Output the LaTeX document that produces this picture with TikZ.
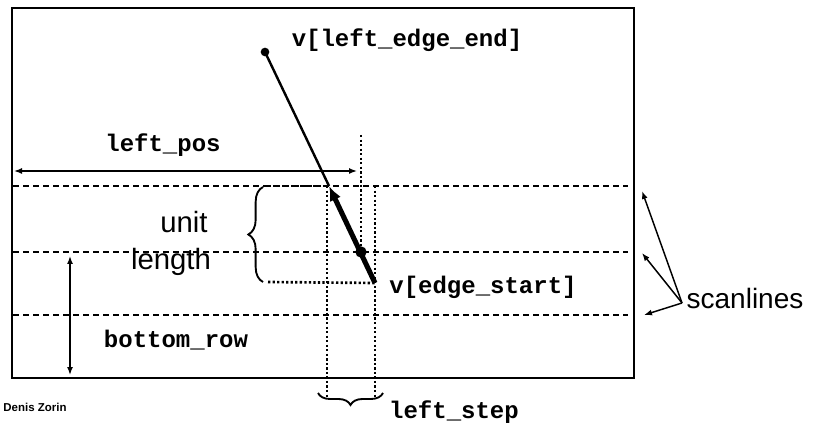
\documentclass[tikz,border=0pt]{standalone}
\usepackage{fontspec}
\setmainfont{Liberation Sans}
\newfontfamily\codefont{Liberation Mono}
\usetikzlibrary{arrows.meta,decorations.pathreplacing}

\begin{document}
\begin{tikzpicture}[x=0.75pt,y=-0.75pt,
  code/.style={font=\codefont\bfseries\fontsize{18}{20}\selectfont, inner sep=0pt},
  word/.style={font=\fontsize{22}{24}\selectfont, inner sep=0pt},
  scanline/.style={dash pattern=on 4.5pt off 3pt, line width=0.9pt},
  guide/.style={dash pattern=on 1.7pt off 1.7pt, line width=2pt},
  tip/.style={-{Latex[length=6pt,width=4.5pt]}},
  tips/.style={{Latex[length=6pt,width=4.5pt]}-{Latex[length=6pt,width=4.5pt]}},
  vertex/.style={circle, fill, inner sep=0pt, minimum size=#1}]
\useasboundingbox (0,0) rectangle (823,423);

% frame of the raster
\draw[line width=2.2pt] (12,8) rectangle (634,378);

% scanlines
\coordinate (s1l) at (13,186); \coordinate (s1r) at (628,186);
\coordinate (s2l) at (13,252); \coordinate (s2r) at (628,252);
\coordinate (s3l) at (13,315); \coordinate (s3r) at (628,315);
\draw[scanline] (s1l) -- (s1r);
\draw[scanline] (s2l) -- (s2r);
\draw[scanline] (s3l) -- (s3r);

% edge end points
\coordinate (vend) at (265,52);
\coordinate (vstart) at (375,283);
\coordinate (cross) at (329,186);
\coordinate (vmid) at (361,252);

% dotted guides
\coordinate (g0t) at (361,135);
\coordinate (g1t) at (327,186); \coordinate (g1b) at (327,398);
\coordinate (g2t) at (375,186); \coordinate (g2b) at (375,398);
\coordinate (bt) at (264,186); \coordinate (bb) at (268,282);
\draw[guide] (g0t) -- (vmid);
\draw[guide] (g1t) -- (g1b);
\draw[guide] (g2t) -- (g2b);
\draw[guide] (bt) -- (g1t);
\draw[guide] (bb) -- (vstart);

% the edge
\draw[line width=1.8pt] (vend) -- (cross);
\draw[line width=3.8pt, -{Latex[length=11pt,width=9pt]}] (vstart) -- (cross);
\node[vertex=6.5pt] (pend) at (vend) {};
\node[vertex=8.5pt] (pmid) at (vmid) {};

% braces
\draw[line width=1.4pt, decorate, decoration={brace, amplitude=11pt}] (263,282) -- (263,187);
\draw[line width=1.4pt, decorate, decoration={brace, amplitude=9pt}] (383,393) -- (318,393);

% left_pos and bottom_row measures
\coordinate (lp1) at (14,171); \coordinate (lp2) at (357,171);
\draw[line width=1.1pt, tips] (lp1) -- (lp2);
\coordinate (br1) at (70,256); \coordinate (br2) at (70,375);
\draw[line width=1.1pt, tips] (br1) -- (br2);

% labels
\node[code] (lend) at (407,40) {v[left\_edge\_end]};
\node[code] (lpos) at (163,145) {left\_pos};
\node[word] (unit) at (184,222) {unit};
\node[word] (len) at (171,262) {length};
\node[code] (lstart) at (483,287) {v[edge\_start]};
\node[code] (brow) at (176,340) {bottom\_row};
\node[code] (lstep) at (454,412) {left\_step};
\node[font=\fontsize{21}{24}\selectfont, inner sep=0pt] (scan) at (745,298) {scanlines};
\node[font=\bfseries\fontsize{8.6}{10}\selectfont, inner sep=0pt] (author) at (35,407) {Denis Zorin};

% arrows to the scanlines
\coordinate (sa) at (682,303);
\coordinate (t1) at (642,191);
\coordinate (t2) at (642,253);
\coordinate (t3) at (644,315);
\draw[line width=1.1pt, tip] (sa) -- (t1);
\draw[line width=1.1pt, tip] (sa) -- (t2);
\draw[line width=1.1pt, tip] (sa) -- (t3);
\end{tikzpicture}
\end{document}
